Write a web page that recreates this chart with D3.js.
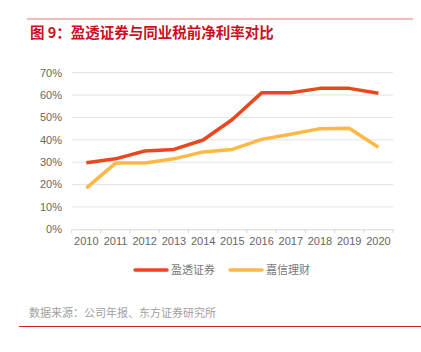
<!DOCTYPE html>
<html>
<head>
<meta charset="utf-8">
<script src="https://cdn.jsdelivr.net/npm/d3@7"></script>
<style>
  body { margin: 0; background: #fff; }
  svg { display: block; font-family: "Noto Sans CJK SC", "Liberation Sans", sans-serif; }
</style>
</head>
<body>
<svg id="chart" width="421" height="352"></svg>
<script>
// data
const years = ['2010','2011','2012','2013','2014','2015','2016','2017','2018','2019','2020'];
const yingtou = [29.7, 31.5, 35.0, 35.7, 39.9, 49.1, 61.0, 61.0, 63.0, 63.0, 60.8];
const jiaxin  = [18.4, 29.6, 29.6, 31.5, 34.6, 35.7, 40.2, 42.5, 45.0, 45.2, 36.7];
const yTicks = [0, 10, 20, 30, 40, 50, 60, 70];
const seriesNames = ['盈透证券', '嘉信理财'];
const colors = ['#e8481f', '#ffb845'];

const svg = d3.select('#chart');

// frame lines and title
svg.append('line').attr('x1', 27).attr('x2', 413).attr('y1', 19).attr('y2', 19)
  .attr('stroke', '#e07474').attr('stroke-width', 1.2);
svg.append('text').attr('x', 30).attr('y', 37.5)
  .attr('fill', '#c8101e').attr('font-size', 14.5).attr('font-weight', 'bold')
  .text('图 9：盈透证券与同业税前净利率对比');

const x = d3.scaleBand().domain(years).range([71.7, 393]);
const y = d3.scaleLinear().domain([0, 70]).range([229.3, 72.7]);

// grid
svg.append('g').selectAll('line').data(yTicks.filter(d => d > 0)).join('line')
  .attr('x1', 71.7).attr('x2', 393)
  .attr('y1', d => y(d)).attr('y2', d => y(d))
  .attr('stroke', '#e3e3e3').attr('stroke-width', 1);

// y axis labels
svg.append('g').selectAll('text').data(yTicks).join('text')
  .attr('x', 62).attr('y', d => y(d)).attr('dy', '0.35em')
  .attr('text-anchor', 'end').attr('fill', '#666').attr('font-size', 11)
  .attr('font-family', 'Liberation Sans, Arial, sans-serif')
  .text(d => d + '%');

// x axis
const xAxis = svg.append('g').attr('transform', `translate(0,${y(0)})`)
  .call(d3.axisBottom(x).tickSize(0).tickPadding(8));
xAxis.select('.domain').attr('stroke', '#d9d9d9');
xAxis.selectAll('text').attr('fill', '#666').attr('font-size', 11)
  .attr('font-family', 'Liberation Sans, Arial, sans-serif');
svg.append('g').selectAll('line').data(d3.range(years.length + 1)).join('line')
  .attr('x1', i => 71.7 + i * x.step()).attr('x2', i => 71.7 + i * x.step())
  .attr('y1', y(0)).attr('y2', y(0) + 4)
  .attr('stroke', '#d9d9d9');

// lines
const line = d3.line()
  .x((d, i) => x(years[i]) + x.bandwidth() / 2)
  .y(d => y(d));

[yingtou, jiaxin].forEach((vals, k) => {
  svg.append('path').datum(vals)
    .attr('d', line).attr('fill', 'none')
    .attr('stroke', colors[k]).attr('stroke-width', 3.5)
    .attr('stroke-linejoin', 'round');
});

// legend
const legendX = [135, 230];
seriesNames.forEach((name, k) => {
  svg.append('line').attr('x1', legendX[k]).attr('x2', legendX[k] + 32)
    .attr('y1', 270).attr('y2', 270)
    .attr('stroke', colors[k]).attr('stroke-width', 3.5).attr('stroke-linecap', 'round');
  svg.append('text').attr('x', legendX[k] + 36).attr('y', 270).attr('dy', '0.35em')
    .attr('fill', '#777').attr('font-size', 11).text(name);
});

// source and bottom rule
svg.append('text').attr('x', 29).attr('y', 313).attr('dy', '0.35em')
  .attr('fill', '#a0a0a0').attr('font-size', 11).text('数据来源：公司年报、东方证券研究所');
svg.append('line').attr('x1', 19).attr('x2', 421).attr('y1', 326.5).attr('y2', 326.5)
  .attr('stroke', '#d42020').attr('stroke-width', 1);
</script>
</body>
</html>
